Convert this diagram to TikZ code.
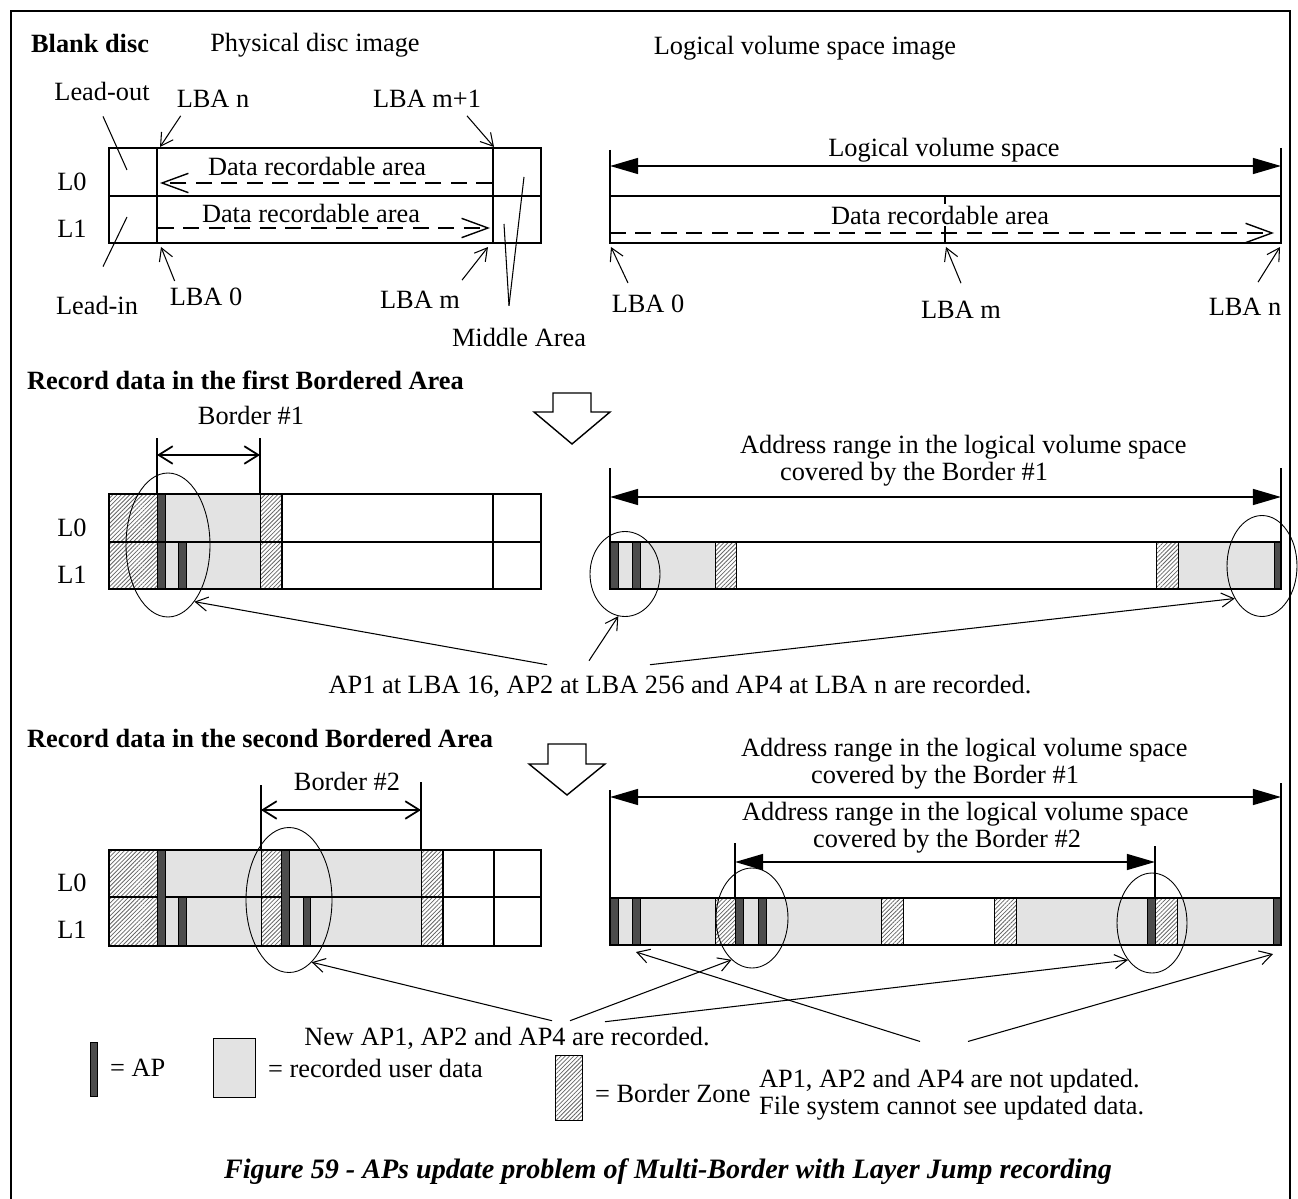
\documentclass[tikz,border=0pt]{standalone}
\usepackage{fontspec}
\setmainfont{Liberation Serif}
\usetikzlibrary{arrows.meta, shapes.geometric, patterns.meta, calc}

\tikzset{
  txt/.style={font=\fontsize{15}{15.3}\selectfont, inner sep=1pt},
  head/.style={font=\fontsize{15}{15.3}\selectfont\bfseries, inner sep=1pt},
  frame/.style={line width=1.5pt},
  boxline/.style={line width=1.2pt},
  thinline/.style={line width=0.5pt},
  apbar/.style={fill=black!70, draw=black, line width=0.5pt},
  userdata/.style={fill=black!11},
  zone/.style={preaction={fill=white}, pattern={Lines[angle=45, distance=1.7pt, line width=0.45pt]}, pattern color=black!60},
  lead/.style={line width=0.6pt},
  ptr/.style={lead, -{Straight Barb[length=7pt, width=8pt]}},
  flow/.style={line width=0.8pt, dash pattern=on 9pt off 5.5pt, -{Straight Barb[length=15pt, width=11pt]}},
  span/.style={line width=1.2pt, {Triangle[length=16pt, width=9pt]}-{Triangle[length=16pt, width=9pt]}},
  brd/.style={line width=1pt, {Straight Barb[length=8pt, width=10pt]}-{Straight Barb[length=8pt, width=10pt]}},
  tick/.style={line width=1pt},
  ring/.style={draw, ellipse, line width=0.5pt, inner sep=0pt},
  hollow/.style={line width=0.8pt, fill=white}
}

\begin{document}
\begin{tikzpicture}[x=0.02cm, y=-0.02cm]
  \useasboundingbox (0,0) rectangle (1298,1199);
  \draw[frame] (11,1215) -- (11,11) -- (1290,11) -- (1290,1215);

  % blank disc
  \node[head, anchor=west] (blank) at (29,43) {Blank disc};
  \node[txt] (physimg) at (315,45) {Physical disc image};
  \node[txt] (logimg) at (805,48) {Logical volume space image};

  \draw[boxline] (109,148) rectangle (541,243);
  \draw[boxline] (109,196) -- (541,196);
  \draw[boxline] (157,148) -- (157,243) (493,148) -- (493,243);
  \node[txt] (l0a) at (72,182) {L0};
  \node[txt] (l1a) at (72,229) {L1};
  \node[txt] (dra0) at (317,166) {Data recordable area};
  \node[txt] (dra1) at (311,213) {Data recordable area};
  \draw[flow] (492,183) -- (160,183);
  \draw[flow] (158,228) -- (490,228);

  \coordinate (pLn) at (160,147);
  \coordinate (pLm1) at (494,147);
  \coordinate (pL0) at (161,247);
  \coordinate (pLm) at (488,247);
  \coordinate (pOut) at (127,170);
  \coordinate (pIn) at (127,217);
  \coordinate (pMid0) at (524,177);
  \coordinate (pMid1) at (504,224);
  \node[txt] (leadout) at (102,91) {Lead-out};
  \node[txt] (leadin) at (97,305) {Lead-in};
  \node[txt] (lban) at (213,99) {LBA n};
  \node[txt] (lbam1) at (427,99) {LBA m+1};
  \node[txt] (lba0) at (206,297) {LBA 0};
  \node[txt] (lbam) at (420,300) {LBA m};
  \node[txt] (midarea) at (519,337) {Middle Area};
  \draw[lead] ($(leadout.south)+(1,14)$) -- (pOut);
  \draw[lead] ($(leadin.north)+(6,-27)$) -- (pIn);
  \draw[ptr] ($(lban.south west)+(6,6)$) -- (pLn);
  \draw[ptr] ($(lbam1.south)+(40,6)$) -- (pLm1);
  \draw[ptr] ($(lba0.north west)+(7,-5)$) -- (pL0);
  \draw[ptr] ($(lbam.north east)+(0,-9)$) -- (pLm);
  \draw[lead] ($(midarea.north)+(-10,-20)$) -- (pMid0);
  \draw[lead] ($(midarea.north)+(-10,-20)$) -- (pMid1);

  % logical volume space
  \draw[tick] (610,150) -- (610,196) (1281,148) -- (1281,196);
  \draw[span] (610,166) -- (1281,166);
  \node[txt] (lvs) at (944,150) {Logical volume space};
  \draw[boxline] (610,196) rectangle (1281,243);
  \draw[boxline] (945,196) -- (945,243);
  \node[txt, fill=white] (dral) at (940,215) {Data recordable area};
  \draw[flow] (610,233) -- (1274,233);
  \coordinate (qL0) at (611,247);
  \coordinate (qLm) at (946,247);
  \coordinate (qLn) at (1280,247);
  \node[txt] (lba0l) at (648,304) {LBA 0};
  \node[txt] (lbaml) at (961,310) {LBA m};
  \node[txt] (lbanl) at (1245,307) {LBA n};
  \draw[ptr] ($(lba0l.north)+(-20,-10)$) -- (qL0);
  \draw[ptr] ($(lbaml.north)+(0,-16)$) -- (qLm);
  \draw[ptr] ($(lbanl.north)+(13,-14)$) -- (qLn);

  % first bordered area
  \node[head, anchor=west] (rec1h) at (25,380) {Record data in the first Bordered Area};
  \draw[hollow] (553,393) -- (591,393) -- (591,412) -- (610,412) -- (572,444) -- (534,412) -- (553,412) -- cycle;
  \node[txt] (bord1) at (251,415) {Border \#1};
  \draw[tick] (157,438) -- (157,494) (260,438) -- (260,494);
  \draw[brd] (157,455) -- (260,455);

  \fill[userdata] (165,494) rectangle (260,589);
  \foreach \a/\b in {109/157, 260/282}
    \draw[zone, thinline] (\a,494) rectangle (\b,589);
  \draw[apbar] (157,494) rectangle (165,589);
  \draw[apbar] (178,542) rectangle (186,589);
  \draw[boxline] (109,494) rectangle (541,589);
  \draw[boxline] (109,542) -- (541,542);
  \draw[boxline] (282,494) -- (282,589) (493,494) -- (493,589);
  \node[txt] (l0b) at (72,528) {L0};
  \node[txt] (l1b) at (72,575) {L1};

  \node[txt, align=left, anchor=west] (rng1) at (738,461)
    {Address range in the logical volume space\\\hspace*{0.8cm}covered by the Border \#1};
  \draw[tick] (610,468) -- (610,542) (1281,468) -- (1281,542);
  \draw[span] (610,497) -- (1281,497);
  \foreach \a/\b in {610/715, 1178/1281}
    \fill[userdata] (\a,542) rectangle (\b,589);
  \foreach \a/\b in {715/736, 1156/1178}
    \draw[zone, thinline] (\a,542) rectangle (\b,589);
  \foreach \a/\b in {610/618, 632/640, 1274/1281}
    \draw[apbar] (\a,542) rectangle (\b,589);
  \draw[boxline] (610,542) rectangle (1281,589);

  \node[ring, minimum width=1.68cm, minimum height=2.88cm] (ringA) at (168,545) {};
  \node[ring, minimum width=1.4cm, minimum height=1.7cm] (ringB) at (625,574) {};
  \node[ring, minimum width=1.4cm, minimum height=2.02cm] (ringC) at (1262,566) {};
  \node[txt] (rec1) at (680,686) {AP1 at LBA 16, AP2 at LBA 256 and AP4 at LBA n are recorded.};
  \draw[ptr] ($(rec1.north)+(-133,-8)$) -- (ringA.295);
  \draw[ptr] ($(rec1.north)+(-91,-12)$) -- (ringB.261);
  \draw[ptr] ($(rec1.north)+(-30,-8)$) -- (ringC.230);

  % second bordered area
  \node[head, anchor=west] (rec2h) at (25,738) {Record data in the second Bordered Area};
  \draw[hollow] (548,744) -- (586,744) -- (586,764) -- (605,764) -- (567,795) -- (529,764) -- (548,764) -- cycle;
  \node[txt] (bord2) at (347,781) {Border \#2};
  \draw[tick] (261,785) -- (261,850) (421,782) -- (421,850);
  \draw[brd] (261,810) -- (421,810);

  \fill[userdata] (165,850) rectangle (421,946);
  \foreach \a/\b in {109/157, 261/281, 421/443}
    \draw[zone, thinline] (\a,850) rectangle (\b,946);
  \draw[boxline] (109,897) -- (541,897);
  \foreach \a/\b in {157/165, 281/289}
    \draw[apbar] (\a,850) rectangle (\b,946);
  \foreach \a/\b in {178/186, 303/310}
    \draw[apbar] (\a,897) rectangle (\b,946);
  \draw[boxline] (109,850) rectangle (541,946);
  \draw[boxline] (443,850) -- (443,946) (494,850) -- (494,946);
  \node[txt] (l0c) at (72,883) {L0};
  \node[txt] (l1c) at (72,930) {L1};

  \node[txt, align=left, anchor=west] (rng2) at (739,764)
    {Address range in the logical volume space\\\hspace*{1.4cm}covered by the Border \#1};
  \node[txt, align=left, anchor=west] (rng3) at (740,828)
    {Address range in the logical volume space\\\hspace*{1.42cm}covered by the Border \#2};
  \draw[tick] (610,790) -- (610,898) (1281,783) -- (1281,898);
  \draw[tick] (735,843) -- (735,898) (1155,846) -- (1155,898);
  \draw[span] (610,797) -- (1281,797);
  \draw[span] (735,862) -- (1155,862);
  \foreach \a/\b in {610/715, 743/881, 1016/1281}
    \fill[userdata] (\a,898) rectangle (\b,945);
  \foreach \a/\b in {715/735, 881/903, 994/1016, 1155/1177}
    \draw[zone, thinline] (\a,898) rectangle (\b,945);
  \foreach \a/\b in {610/618, 632/640, 735/743, 758/766, 1147/1155, 1273/1281}
    \draw[apbar] (\a,898) rectangle (\b,945);
  \draw[boxline] (610,898) rectangle (1281,945);

  \node[ring, minimum width=1.72cm, minimum height=2.9cm] (ringD) at (289,900) {};
  \node[ring, minimum width=1.44cm, minimum height=2cm] (ringE) at (752,918) {};
  \node[ring, minimum width=1.4cm, minimum height=2cm] (ringF) at (1152,923) {};
  \coordinate (oldap) at (636,952);
  \coordinate (oldend) at (1273,954);

  \node[txt] (new1) at (507,1038) {New AP1, AP2 and AP4 are recorded.};
  \node[txt, align=left, anchor=west] (upd) at (757,1095)
    {AP1, AP2 and AP4 are not updated.\\File system cannot see updated data.};
  \draw[ptr] ($(new1.north)+(45,-4)$) -- (ringD.290);
  \draw[ptr] ($(new1.north)+(63,-4)$) -- (ringE.244);
  \draw[ptr] ($(new1.north)+(98,-3)$) -- (ringF.237);
  \draw[ptr] ($(upd.north west)+(163,-26)$) -- (oldap);
  \draw[ptr] ($(upd.north west)+(211,-26)$) -- (oldend);

  % legend
  \draw[apbar] (90,1042) rectangle (97,1096);
  \node[txt, anchor=west] (keyap) at (108,1068) {= AP};
  \draw[userdata, thinline] (213,1038) rectangle (255,1097);
  \node[txt, anchor=west] (keyud) at (266,1068) {= recorded user data};
  \draw[zone, thinline] (555,1055) rectangle (582,1120);
  \node[txt, anchor=west] (keybz) at (593,1093) {= Border Zone};

  \node[font=\fontsize{16}{18}\selectfont\bfseries\itshape] (caption) at (668,1172)
    {Figure 59 - APs update problem of Multi-Border with Layer Jump recording};
\end{tikzpicture}
\end{document}
